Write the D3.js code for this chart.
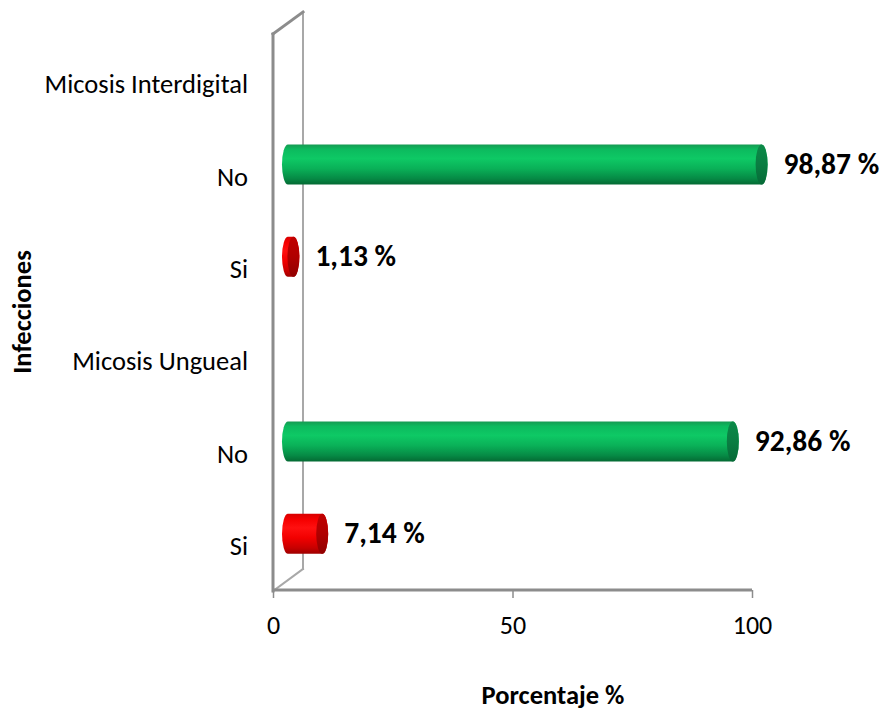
<!DOCTYPE html>
<html>
<head>
<meta charset="utf-8">
<script src="https://cdn.jsdelivr.net/npm/d3@7/dist/d3.min.js"></script>
<style>
  html, body { margin: 0; padding: 0; background: #fff; }
  svg { display: block; font-family: Carlito, Calibri, Lato, "Open Sans", sans-serif; }
</style>
</head>
<body>
<svg id="chart" width="885" height="711"></svg>
<script>
// Categories from top to bottom, with their percentages (null = group heading)
const categories = ["Micosis Interdigital", "No", "Si", "Micosis Ungueal", "No", "Si"];
const values = [null, 98.87, 1.13, null, 92.86, 7.14];
const xTicks = [0, 50, 100];

const svg = d3.select("#chart");

// plot frame (front plane) and 3D depth offset
const plotLeft = 273, plotRight = 752, plotTop = 37, plotBottom = 591;
const depthX = 30, depthY = -22;
const radius = 20, capRx = 6;

const x = d3.scaleLinear().domain([0, 100]).range([plotLeft, plotRight]);
const y = d3.scaleBand().domain(d3.range(categories.length)).range([plotTop, plotBottom]).padding(0);

const locale = d3.formatLocale({ decimal: ",", thousands: ".", grouping: [3], currency: ["", ""] });
const fmt = locale.format(".2f");

const defs = svg.append("defs");
function cylGradient(id, stops) {
  const g = defs.append("linearGradient").attr("id", id)
    .attr("x1", 0).attr("y1", 0).attr("x2", 0).attr("y2", 1);
  stops.forEach(([o, c]) => g.append("stop").attr("offset", o).attr("stop-color", c));
}
cylGradient("greenBody", [[0, "#169a52"], [0.12, "#0cba5e"], [0.35, "#0ec965"], [0.6, "#0ab158"], [0.85, "#068a45"], [1, "#046a33"]]);
cylGradient("greenCap", [[0, "#0b8a48"], [0.5, "#0a7d42"], [1, "#066a37"]]);
cylGradient("redBody", [[0, "#d80000"], [0.15, "#f60000"], [0.35, "#ff1010"], [0.6, "#f20000"], [0.85, "#c80000"], [1, "#9e0000"]]);
cylGradient("redCap", [[0, "#c00000"], [0.5, "#b00000"], [1, "#900000"]]);

const styleOf = label => label === "No"
  ? { body: "url(#greenBody)", cap: "url(#greenCap)" }
  : { body: "url(#redBody)", cap: "url(#redCap)" };

// side wall (parallelogram)
const wall = svg.append("g").attr("fill", "none").attr("stroke-linecap", "square");
wall.append("line").attr("x1", plotLeft + depthX).attr("y1", plotTop + depthY - 3)
  .attr("x2", plotLeft + depthX).attr("y2", plotBottom + depthY)
  .attr("stroke", "#a8a8a8").attr("stroke-width", 2);
wall.append("line").attr("x1", plotLeft).attr("y1", plotTop - 3)
  .attr("x2", plotLeft + depthX).attr("y2", plotTop + depthY - 3)
  .attr("stroke", "#8c8c8c").attr("stroke-width", 3);
wall.append("line").attr("x1", plotLeft).attr("y1", plotBottom)
  .attr("x2", plotLeft + depthX).attr("y2", plotBottom + depthY)
  .attr("stroke", "#a8a8a8").attr("stroke-width", 2);
wall.append("line").attr("x1", plotLeft).attr("y1", plotTop - 3)
  .attr("x2", plotLeft).attr("y2", plotBottom)
  .attr("stroke", "#8c8c8c").attr("stroke-width", 3);

// cylinders, placed at half depth
const rows = categories.map((c, i) => ({ label: c, value: values[i], i }))
  .filter(d => d.value !== null);

const bars = svg.append("g");
rows.forEach(d => {
  const cy = y(d.i) + y.bandwidth() / 2 + depthY / 2;
  const x0 = x(0) + depthX / 2;
  const x1 = x(d.value) + depthX / 2;
  const st = styleOf(d.label);
  const path = `M${x0},${cy - radius} L${x1},${cy - radius} ` +
    `A${capRx},${radius} 0 0 1 ${x1},${cy + radius} L${x0},${cy + radius} ` +
    `A${capRx},${radius} 0 0 1 ${x0},${cy - radius} Z`;
  bars.append("path").attr("d", path).attr("fill", st.body);
  bars.append("ellipse").attr("cx", x1).attr("cy", cy).attr("rx", capRx).attr("ry", radius)
    .attr("fill", st.cap);
  svg.append("text")
    .attr("x", x1 + capRx + 16).attr("y", cy - 1)
    .attr("dy", "0.35em")
    .attr("font-size", 29.5).attr("font-weight", "bold").attr("fill", "#000")
    .text(fmt(d.value) + " %");
});

// category labels
svg.append("g").selectAll("text").data(categories).join("text")
  .attr("x", 248)
  .attr("y", (d, i) => y(i) + y.bandwidth() / 2 + 1)
  .attr("dy", "0.35em")
  .attr("text-anchor", "end")
  .attr("font-size", 26.5)
  .attr("fill", "#000")
  .text(d => d);

// floor edge with ticks
const axis = svg.append("g").attr("transform", `translate(0,${plotBottom - 1})`)
  .call(d3.axisBottom(x).tickValues(xTicks).tickSize(8).tickPadding(18).tickFormat(d3.format("d")));
axis.attr("font-family", null).attr("font-size", null);
axis.select(".domain").attr("stroke", "#8c8c8c").attr("stroke-width", 3)
  .attr("d", `M${plotLeft},0H${plotRight}`);
axis.selectAll(".tick line").attr("stroke", "#8c8c8c").attr("stroke-width", 1.5);
axis.selectAll(".tick text").attr("font-size", 26).attr("fill", "#000");

// axis titles
svg.append("text")
  .attr("x", 553).attr("y", 695).attr("dy", "0.35em")
  .attr("text-anchor", "middle").attr("font-size", 26.5).attr("font-weight", "bold")
  .text("Porcentaje %");
svg.append("text")
  .attr("transform", "translate(22,312) rotate(-90)").attr("dy", "0.35em")
  .attr("text-anchor", "middle").attr("font-size", 26.5).attr("font-weight", "bold")
  .text("Infecciones");
</script>
</body>
</html>
